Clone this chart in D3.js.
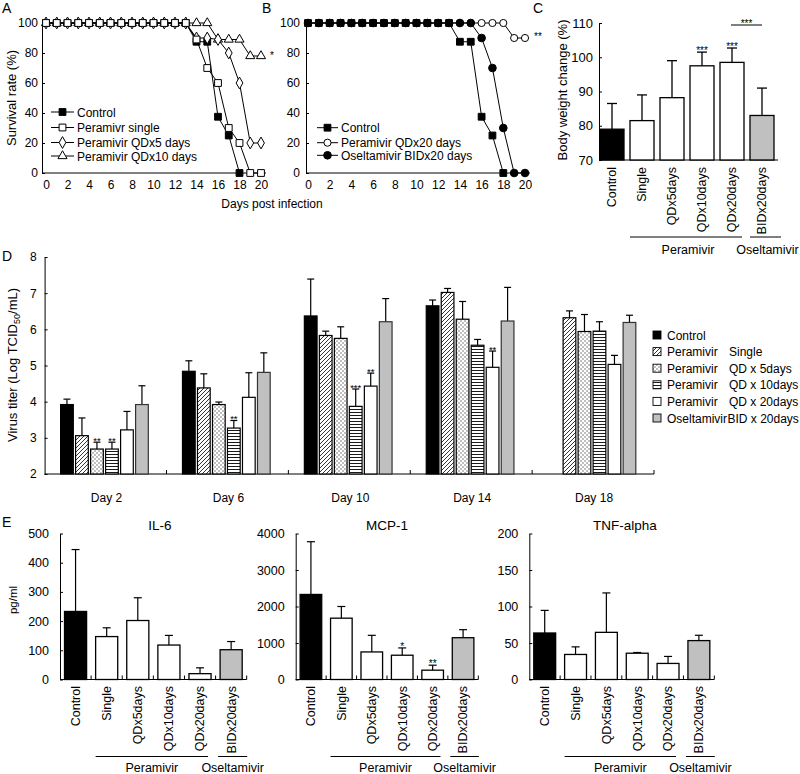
<!DOCTYPE html>
<html><head><meta charset="utf-8">
<script src="https://cdn.jsdelivr.net/npm/d3@7"></script>
<style>body{margin:0;background:#fff}svg{display:block}text{font-family:"Liberation Sans",Arial,sans-serif;fill:#000}</style>
</head><body><svg id="c" width="800" height="774"></svg>
<script>
// ---------- DATA ----------
const survDays = d3.range(0, 21);
const ctrlSurv   = [100,100,100,100,100,100,100,100,100,100,100,100,100,100,87.5,87.5,37.5,25,0];
const singleSurv = [100,100,100,100,100,100,100,100,100,100,100,100,100,100,89,70,60,30,20,0,0];
const qd5Surv    = [100,100,100,100,100,100,100,100,100,100,100,100,100,100,90,90,89,80,60,20,20];
const qd10Surv   = [100,100,100,100,100,100,100,100,100,100,100,100,100,100,100,100,89,89,89,78,78];
const qd20Surv   = [100,100,100,100,100,100,100,100,100,100,100,100,100,100,100,100,100,100,100,90,90];
const oselSurv   = [100,100,100,100,100,100,100,100,100,100,100,100,100,100,100,100,90,70,30,0,0];
const survTicksX = [0,2,4,6,8,10,12,14,16,18,20];
const survTicksY = [0,20,40,60,80,100];

const bwCats = ["Control","Single","QDx5days","QDx10days","QDx20days","BIDx20days"];
const bwMean = [79, 81.5, 88.2, 97.5, 98.5, 83];
const bwSd   = [7.5, 7.5, 10.8, 4, 4.2, 8];
const bwStars = ["", "", "", "***", "***", ""];
const bwTicks = [70,80,90,100,110];

const titerDays = ["Day 2","Day 6","Day 10","Day 14","Day 18"];
const titerSeries = ["Control","Single","QD5","QD10","QD20","BID"];
const ctrlTiter   = [3.92, 4.84, 6.37, 6.65, null];
const singleTiter = [3.06, 4.38, 5.83, 7.02, 6.32];
const qd5Titer    = [2.69, 3.92, 5.75, 6.28, 5.94];
const qd10Titer   = [2.69, 3.27, 3.87, 5.56, 5.95];
const qd20Titer   = [3.22, 4.12, 4.43, 4.95, 5.03];
const oselTiter   = [3.92, 4.81, 6.21, 6.23, 6.19];
const ctrlTiterSd   = [0.15, 0.29, 1.02, 0.16, null];
const singleTiterSd = [0.49, 0.39, 0.12, 0.11, 0.19];
const qd5TiterSd    = [0.19, 0.07, 0.32, 0.49, 0.47];
const qd10TiterSd   = [0.19, 0.21, 0.48, 0.16, 0.26];
const qd20TiterSd   = [0.51, 0.68, 0.36, 0.45, 0.25];
const oselTiterSd   = [0.52, 0.54, 0.64, 0.93, 0.20];
const titerStars = [["","","**","**","",""],["","","","**","",""],["","","","***","**",""],["","","","","**",""],["","","","","",""]];
const titerTicks = [2,3,4,5,6,7,8];
const titerLegend1 = ["Control","Peramivir","Peramivir","Peramivir","Peramivir","Oseltamivir"];
const titerLegend2 = ["","Single","QD x 5days","QD x 10days","QD x 20days","BID x 20days"];

const cytoCats = ["Control","Single","QDx5days","QDx10days","QDx20days","BIDx20days"];
const il6Mean = [233, 147, 202, 118, 20, 102];
const il6Sd   = [212, 30, 78, 33, 20, 28];
const mcpMean = [2330, 1680, 755, 665, 255, 1145];
const mcpSd   = [1445, 320, 455, 200, 137, 220];
const tnfMean = [63.7, 34.3, 64.6, 36, 22, 53.3];
const tnfSd   = [31, 10.4, 54, 1, 9.6, 7.3];
const mcpStars = ["", "", "", "*", "**", ""];
const il6Ticks = [0,100,200,300,400,500];
const mcpTicks = [0,1000,2000,3000,4000];
const tnfTicks = [0,50,100,150,200];

// ---------- SETUP ----------
const FONT = '"Liberation Sans", Arial, sans-serif';
const svg = d3.select("#c");
const defs = svg.append("defs");
const pHatch = defs.append("pattern").attr("id","hatch").attr("patternUnits","userSpaceOnUse").attr("width",4).attr("height",4);
pHatch.append("rect").attr("width",4).attr("height",4).attr("fill","#fff");
pHatch.append("path").attr("d","M-1,1 l2,-2 M0,4 l4,-4 M3,5 l2,-2").attr("stroke","#000").attr("stroke-width",0.8);
const pDots = defs.append("pattern").attr("id","dots").attr("patternUnits","userSpaceOnUse").attr("width",4).attr("height",4);
pDots.append("rect").attr("width",4).attr("height",4).attr("fill","#fff");
pDots.append("rect").attr("x",0.5).attr("y",0.5).attr("width",1).attr("height",1).attr("fill","#000");
pDots.append("rect").attr("x",2.5).attr("y",2.5).attr("width",1).attr("height",1).attr("fill","#000");
const pStr = defs.append("pattern").attr("id","stripes").attr("patternUnits","userSpaceOnUse").attr("width",4).attr("height",3);
pStr.append("rect").attr("width",4).attr("height",3).attr("fill","#fff");
pStr.append("line").attr("x1",0).attr("x2",4).attr("y1",1.5).attr("y2",1.5).attr("stroke","#000").attr("stroke-width",0.9);

const seriesFill = {Control:"#000", Single:"url(#hatch)", QD5:"url(#dots)", QD10:"url(#stripes)", QD20:"#fff", BID:"#c0c0c0"};
const catFill = ["#000","#fff","#fff","#fff","#fff","#c0c0c0"];

function txt(x, y, s, size, anchor) {
  return svg.append("text").attr("x",x).attr("y",y).attr("font-size",size).attr("fill","#000").attr("text-anchor",anchor||"start").text(s);
}
function hline(x1, x2, y, w) { svg.append("line").attr("x1",x1).attr("x2",x2).attr("y1",y).attr("y2",y).attr("stroke","#000").attr("stroke-width",w||1); }
function yAxis(scale, ticks, x, pad, size) {
  const g = svg.append("g").attr("transform",`translate(${x},0)`)
    .call(d3.axisLeft(scale).tickValues(ticks).tickFormat(d3.format("d")).tickSizeInner(-3).tickSizeOuter(0).tickPadding(pad));
  g.attr("font-family", FONT).attr("font-size", size || 12);
  g.selectAll("text").attr("fill","#000");
  g.selectAll("line,path").attr("stroke","#000");
  return g;
}
function star(x, capY, s, size) {
  svg.append("text").attr("x",x).attr("y",capY + 2).attr("font-size",size||10).attr("fill","#000").attr("text-anchor","middle").text(s);
}
function rotLabel(x, y, s, size) {
  svg.append("text").attr("transform",`translate(${x},${y}) rotate(-90)`).attr("fill","#000").attr("text-anchor","middle").attr("font-size",size).text(s);
}

// ---------- A & B : survival ----------
function survivalPanel(o) {
  const x = d3.scaleLinear([0,20],[o.x0,o.x1]);
  const y = d3.scaleLinear([0,100],[173,23]);
  yAxis(y, survTicksY, o.ax, o.ypad, 12);
  hline(o.ax, o.axEnd, 173);
  const gx = svg.append("g").attr("transform","translate(0,173)")
    .call(d3.axisBottom(x).tickValues(survTicksX).tickSizeInner(0).tickSizeOuter(0).tickPadding(7));
  gx.attr("font-family", FONT).attr("font-size", 12);
  gx.select(".domain").remove();
  gx.selectAll("text").attr("fill","#000");
  const line = d3.line().x((d,i)=>x(i)).y(d=>y(d));
  o.series.forEach(s => {
    svg.append("path").attr("d", line(s.vals)).attr("fill","none").attr("stroke","#000").attr("stroke-width",1);
  });
  o.series.forEach(s => {
    svg.append("g").selectAll("path").data(s.vals).join("path")
      .attr("transform",(d,i)=>`translate(${x(i)},${y(d)})`)
      .attr("d", d3.symbol().type(s.sym).size(s.size))
      .attr("fill", s.fill).attr("stroke","#000").attr("stroke-width",1);
  });
  o.legend.forEach((s, i) => {
    const ly = o.legY[i];
    hline(o.legX0, o.legX1, ly);
    svg.append("path").attr("transform",`translate(${(o.legX0+o.legX1)/2},${ly})`)
      .attr("d", d3.symbol().type(s.sym).size(s.size)).attr("fill",s.fill).attr("stroke","#000");
    txt(o.legX1 + 3, ly + 4.5, s.name, 12);
  });
}
const SQ = d3.symbolSquare, DI = d3.symbolDiamond, TR = d3.symbolTriangle, CI = d3.symbolCircle;
const sCtrl = {name:"Control", vals:ctrlSurv, sym:SQ, size:46, fill:"#000"};
const sSingle = {name:"Peramivr single", vals:singleSurv, sym:SQ, size:46, fill:"#fff"};
const sQd5 = {name:"Peramivir QDx5 days", vals:qd5Surv, sym:DI, size:40, fill:"#fff"};
const sQd10 = {name:"Peramivir QDx10 days", vals:qd10Surv, sym:TR, size:36, fill:"#fff"};
const sQd20 = {name:"Peramivir QDx20 days", vals:qd20Surv, sym:CI, size:40, fill:"#fff"};
const sOsel = {name:"Oseltamivir BIDx20 days", vals:oselSurv, sym:CI, size:46, fill:"#000"};

txt(2, 13, "A", 14);
survivalPanel({x0:46, x1:261, ax:42, axEnd:266, ypad:4,
  series:[sCtrl, sQd10, sQd5, sSingle],
  legend:[sCtrl, sSingle, sQd5, sQd10], legX0:51, legX1:74, legY:[112,127.5,142.5,156]});
star(272, 57, "*", 10);
rotLabel(16, 98, "Survival rate (%)", 13);

txt(262, 13, "B", 14);
survivalPanel({x0:308, x1:525, ax:306, axEnd:530, ypad:6,
  series:[sQd20, sOsel, sCtrl],
  legend:[sCtrl, sQd20, sOsel], legX0:317, legX1:338, legY:[127.7,142.7,155.3]});
star(538, 38, "**", 10);
txt(272, 208, "Days post infection", 12, "middle");

// ---------- C : body weight ----------
txt(533, 13, "C", 14);
{
  const x = d3.scaleBand(bwCats, [597, 777]).paddingInner(0.2).paddingOuter(0.1);
  const y = d3.scaleLinear([70,110],[160,23]);
  yAxis(y, bwTicks, 599, 6, 13);
  hline(599, 778, 160);
  bwCats.forEach((c, i) => {
    const bx = x(c), bw = x.bandwidth(), top = y(bwMean[i]), cap = y(bwMean[i] + bwSd[i]), cx = bx + bw/2;
    svg.append("line").attr("x1",cx).attr("x2",cx).attr("y1",top).attr("y2",cap).attr("stroke","#000").attr("stroke-width",1.3);
    hline(cx-5, cx+5, cap, 1.3);
    svg.append("rect").attr("x",bx).attr("y",top).attr("width",bw).attr("height",160-top)
      .attr("fill",catFill[i]).attr("stroke","#000").attr("stroke-width",1.3);
    if (bwStars[i]) star(cx, cap, bwStars[i], 10);
    svg.append("text").attr("transform",`translate(${cx},167) rotate(-90)`).attr("dy","0.35em")
      .attr("text-anchor","end").attr("fill","#000").attr("font-size",12.5).text(c);
  });
  const xa = x("QDx20days") + x.bandwidth()/2 - 1, xb = x("BIDx20days") + x.bandwidth()/2;
  hline(xa, xb, 25);
  star((xa+xb)/2, 25, "***", 10);
  const p0 = x("Single"), p1 = x("QDx20days") + x.bandwidth() - 2;
  const o0 = x("BIDx20days"), o1 = x("BIDx20days") + x.bandwidth() + 7;
  hline(p0, p1, 237); hline(o0, o1, 237);
  txt((p0+p1)/2 + 2, 254, "Peramivir", 12.5, "middle");
  txt((o0+o1)/2 + 2, 254, "Oseltamivir", 12.5, "middle");
  rotLabel(567, 90, "Body weight change (%)", 13);
}

// ---------- D : virus titer ----------
txt(2, 261, "D", 14);
{
  const x0 = d3.scaleBand(titerDays, [44.6, 654]);
  const x1 = d3.scaleBand(titerSeries, [16, 103.7]).paddingInner(0.153);
  const y = d3.scaleLinear([2,8],[474,257]);
  yAxis(y, titerTicks, 44.6, 8, 12);
  hline(44.6, 654, 474);
  titerDays.forEach((d, gi) => {
    const gb = x0(d) + x0.bandwidth();
    svg.append("line").attr("x1",gb).attr("x2",gb).attr("y1",474).attr("y2",470).attr("stroke","#000");
    txt(x0(d) + x0.bandwidth()/2 + 1, 502, d, 12, "middle");
  });
  const means = [ctrlTiter, singleTiter, qd5Titer, qd10Titer, qd20Titer, oselTiter];
  const sds = [ctrlTiterSd, singleTiterSd, qd5TiterSd, qd10TiterSd, qd20TiterSd, oselTiterSd];
  titerDays.forEach((d, gi) => {
    titerSeries.forEach((s, si) => {
      const v = means[si][gi];
      if (v == null) return;
      const bx = x0(d) + x1(s), bw = x1.bandwidth(), cx = bx + bw/2;
      const top = y(v), cap = y(v + sds[si][gi]);
      svg.append("line").attr("x1",cx).attr("x2",cx).attr("y1",top).attr("y2",cap).attr("stroke","#000").attr("stroke-width",1.2);
      hline(cx-3.5, cx+3.5, cap, 1.2);
      svg.append("rect").attr("x",bx).attr("y",top).attr("width",bw).attr("height",474-top)
        .attr("fill",seriesFill[s]).attr("stroke", s==="BID" ? "#333" : "#000").attr("stroke-width",1.2);
      if (titerStars[gi][si]) star(cx, cap, titerStars[gi][si], 9.5);
    });
  });
  titerSeries.forEach((s, i) => {
    const ly = 335 + i*16.6;
    svg.append("rect").attr("x",653).attr("y",ly-4).attr("width",8).attr("height",8)
      .attr("fill",seriesFill[s]).attr("stroke","#000").attr("stroke-width",0.9);
    txt(667, ly + 4.5, titerLegend1[i], 12);
    if (titerLegend2[i]) txt(i===5 ? 727.5 : 729, ly + 4.5, titerLegend2[i], 12);
  });
  const yl = svg.append("text").attr("transform","translate(17,365) rotate(-90)").attr("text-anchor","middle").attr("fill","#000").attr("font-size",13);
  yl.append("tspan").text("Virus titer (Log TCID");
  yl.append("tspan").attr("font-size",9).attr("dy",3).text("50");
  yl.append("tspan").attr("dy",-3).text("/mL)");
}

// ---------- E : cytokines ----------
txt(2, 527, "E", 14);
function cytoPanel(o) {
  const x = d3.scaleBand(cytoCats, [o.ax, o.axEnd]).paddingInner(0.29).paddingOuter(0.145);
  const y = d3.scaleLinear([0, o.max],[679.5, 533.5]);
  yAxis(y, o.ticks, o.ax, 11, 12.5);
  hline(o.ax, o.axEnd, 679.5);
  cytoCats.forEach((c, i) => {
    const b = o.ax + x.step() * (i + 1);
    svg.append("line").attr("x1",b).attr("x2",b).attr("y1",679.5).attr("y2",675.5).attr("stroke","#000");
    const bx = x(c), bw = x.bandwidth(), cx = bx + bw/2;
    const top = y(o.mean[i]), cap = y(o.mean[i] + o.sd[i]);
    svg.append("line").attr("x1",cx).attr("x2",cx).attr("y1",top).attr("y2",cap).attr("stroke","#000").attr("stroke-width",1.2);
    hline(cx-4, cx+4, cap, 1.2);
    svg.append("rect").attr("x",bx).attr("y",top).attr("width",bw).attr("height",679.5-top)
      .attr("fill",catFill[i]).attr("stroke","#000").attr("stroke-width",1.3);
    if (o.stars && o.stars[i]) star(cx, cap, o.stars[i], 10);
    svg.append("text").attr("transform",`translate(${cx},686) rotate(-90)`).attr("dy","0.35em")
      .attr("text-anchor","end").attr("fill","#000").attr("font-size",12.5).text(c);
  });
  const p0 = x("Single"), p1 = x("QDx20days") + x.bandwidth() - 3;
  const o0 = x("BIDx20days") - 2, o1 = x("BIDx20days") + x.bandwidth() + 5;
  hline(p0, p1, 756.5); hline(o0, o1, 756.5);
  txt((p0+p1)/2, 772, "Peramivir", 12.5, "middle");
  txt((o0+o1)/2, 772, "Oseltamivir", 12.5, "middle");
  txt(o.titleX, 530, o.title, 13.5, "middle");
}
cytoPanel({title:"IL-6", mean:il6Mean, sd:il6Sd, max:500, ticks:il6Ticks, ax:60, axEnd:246.7, titleX:160});
cytoPanel({title:"MCP-1", mean:mcpMean, sd:mcpSd, max:4000, ticks:mcpTicks, ax:295.7, axEnd:478.3, titleX:387, stars:mcpStars});
cytoPanel({title:"TNF-alpha", mean:tnfMean, sd:tnfSd, max:200, ticks:tnfTicks, ax:529.3, axEnd:714.3, titleX:625});
rotLabel(17, 600, "pg/ml", 11.5);
</script></body></html>
